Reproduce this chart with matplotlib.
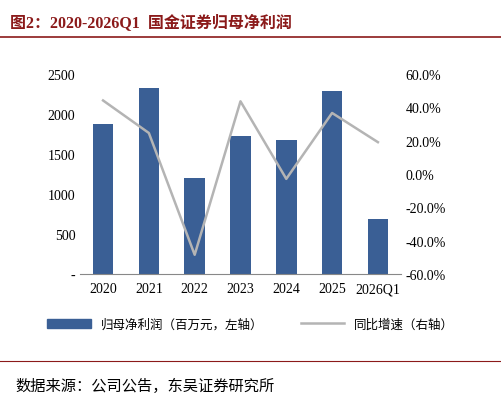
import matplotlib
matplotlib.use('Agg')
import matplotlib.pyplot as plt
from matplotlib.lines import Line2D

plt.rcParams['font.family'] = ['Liberation Serif', 'Noto Sans CJK SC', 'DejaVu Sans']

years = ['2020', '2021', '2022', '2023', '2024', '2025', '2026Q1']
profit = [1875, 2320, 1200, 1725, 1675, 2290, 690]
growth = [44.0, 24.5, -48.5, 43.5, -3.0, 36.5, 19.0]

bar_color = '#3A5F95'
line_color = '#B4B4B4'

fig = plt.figure(figsize=(5.01, 4.02), dpi=100)
ax = fig.add_axes([0.16, 0.316, 0.64, 0.498])
x = list(range(len(years)))
ax.bar(x, profit, width=0.45, color=bar_color)
ax.set_ylim(0, 2500)
ax.set_yticks([0, 500, 1000, 1500, 2000, 2500])
ax.set_yticklabels(['-', '500', '1000', '1500', '2000', '2500'])
ax.set_xlim(-0.5, len(years) - 0.5)
ax.set_xticks(x)
ax.set_xticklabels(years)
for s in ['top', 'right', 'left']:
    ax.spines[s].set_visible(False)
ax.spines['bottom'].set_color('#888888')
ax.tick_params(axis='both', length=0, labelsize=10)
ax.tick_params(axis='x', pad=6)

ax2 = ax.twinx()
ax2.plot(x, growth, color=line_color, linewidth=1.8)
ax2.set_ylim(-60, 60)
ax2.set_yticks(range(-60, 61, 20))
ax2.set_yticklabels([f'{v:.1f}%' for v in range(-60, 61, 20)])
for s in ['top', 'right', 'left', 'bottom']:
    ax2.spines[s].set_visible(False)
ax2.tick_params(axis='y', length=0, labelsize=10)

handles = [plt.Rectangle((0, 0), 1, 1, color=bar_color),
           Line2D([], [], color=line_color, linewidth=1.8)]
fig.legend(handles, ['归母净利润（百万元，左轴）', '同比增速（右轴）'],
           loc='center', bbox_to_anchor=(0.5, 0.19), ncol=2, frameon=False,
           fontsize=9, handlelength=3.5, columnspacing=3)

fig.text(0.02, 0.965, '图2：2020-2026Q1  国金证券归母净利润', fontsize=11.5,
         fontweight='bold', color='#8B1A1A', va='top')
fig.add_artist(Line2D([0.0, 1.0], [0.905, 0.905], color='#8B1A1A', linewidth=1.2))
fig.add_artist(Line2D([0.0, 1.0], [0.1, 0.1], color='#8B1A1A', linewidth=0.8))
fig.text(0.03, 0.04, '数据来源：公司公告，东吴证券研究所', fontsize=11, va='center')

fig.savefig('out.png', dpi=100)
